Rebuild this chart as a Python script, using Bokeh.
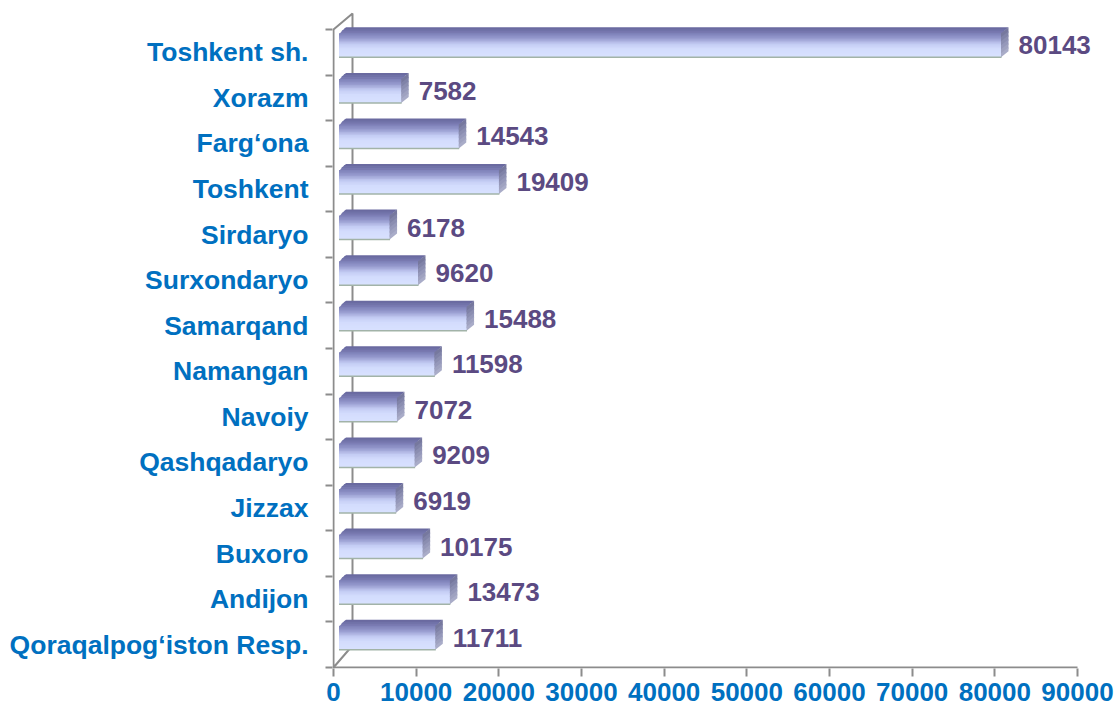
from bokeh.plotting import figure
from bokeh.models import FixedTicker, Range1d
from bokeh.core.properties import value
from bokeh.embed import file_html
from bokeh.resources import INLINE

# ---- data ----
regions = ["Qoraqalpog‘iston Resp.", "Andijon", "Buxoro", "Jizzax", "Qashqadaryo",
           "Navoiy", "Namangan", "Samarqand", "Surxondaryo", "Sirdaryo",
           "Toshkent", "Farg‘ona", "Xorazm", "Toshkent sh."]
values = [11711, 13473, 10175, 6919, 9209, 7072, 11598, 15488, 9620, 6178,
          19409, 14543, 7582, 80143]
x_ticks = [0, 10000, 20000, 30000, 40000, 50000, 60000, 70000, 80000, 90000]

# ---- geometry helpers (pixel -> data) ----
PX_X = 90000 / 744.0
PX_Y = 1 / 45.57
W, H = 1117, 711
FL = 332
FBB = 43
frame_w = W - FL
frame_h = H - FBB
x_start = -1 * PX_X
x_end = x_start + frame_w * PX_X
y_start = -0.5 - 1 * PX_Y
y_end = y_start + frame_h * PX_Y

FONT = "Liberation Sans"
GREY = "#8c8c8c"
BLUE = "#0070c0"
PURPLE = "#5b4a82"


def hex2rgb(h):
    h = h.lstrip("#")
    return tuple(int(h[i:i + 2], 16) for i in (0, 2, 4))


def interp(stops, t):
    for (t0, c0), (t1, c1) in zip(stops[:-1], stops[1:]):
        if t0 <= t <= t1:
            f = 0 if t1 == t0 else (t - t0) / (t1 - t0)
            a, b = hex2rgb(c0), hex2rgb(c1)
            return "#%02x%02x%02x" % tuple(int(round(a[k] + (b[k] - a[k]) * f)) for k in range(3))
    return stops[-1][1]


front_stops = [(0.0, "#7d80b8"), (0.2, "#9498cc"), (0.45, "#c3cbf3"),
               (0.65, "#d3dcfd"), (1.0, "#d9e2ff")]
top_stops = [(0.0, "#7b7db4"), (1.0, "#66669c")]
side_stops = [(0.0, "#717399"), (0.5, "#9093b6"), (1.0, "#aeb1cb")]

p = figure(width=W, height=H, x_range=Range1d(x_start, x_end),
           y_range=Range1d(y_start, y_end), output_backend="svg",
           toolbar_location=None, min_border_left=FL, min_border_right=0,
           min_border_top=0, min_border_bottom=FBB)
p.outline_line_color = None
p.grid.visible = False
p.background_fill_color = "white"
p.border_fill_color = "white"

# y axis
ya = p.yaxis[0]
ya.ticker = FixedTicker(ticks=list(range(len(regions))),
                        minor_ticks=[i - 0.5 for i in range(len(regions) + 1)])
ya.major_label_overrides = {i: r for i, r in enumerate(regions)}
ya.major_tick_out = 0
ya.major_tick_in = 0
ya.minor_tick_out = 7
ya.minor_tick_in = 0
ya.minor_tick_line_color = GREY
ya.minor_tick_line_width = 2
ya.axis_line_color = None
ya.major_label_standoff = 17
ya.major_label_text_font = FONT
ya.major_label_text_font_style = "bold"
ya.major_label_text_font_size = "26.5px"
ya.major_label_text_color = BLUE

# x axis
xa = p.xaxis[0]
xa.ticker = FixedTicker(ticks=x_ticks, minor_ticks=[])
xa.major_label_overrides = {t: str(t) for t in x_ticks}
xa.major_tick_out = 8
xa.major_tick_in = 0
xa.major_tick_line_color = GREY
xa.major_tick_line_width = 2
xa.minor_tick_line_color = None
xa.axis_line_color = None
xa.major_label_standoff = 6
xa.major_label_text_font = FONT
xa.major_label_text_font_style = "bold"
xa.major_label_text_font_size = "26px"
xa.major_label_text_color = BLUE

# walls / axis lines
n = len(regions)
top_b = n - 0.5
bx = 19 * PX_X
wall_xs = [[x_start, x_ticks[-1]],
           [0, 0, bx, bx, 0]]
wall_ys = [[-0.5, -0.5],
           [-0.5, top_b, top_b + 16 * PX_Y, -0.5 + 22 * PX_Y, -0.5]]
p.multi_line(xs=wall_xs, ys=wall_ys, line_color=GREY, line_width=2)

# bars
x0 = 5.5 * PX_X
dx = 7 * PX_X
dy = 6 * PX_Y
half = 12 * PX_Y
NS = 16
MS = 6
TS = 3
ov = 1.2 * PX_Y
fl, fr, ft, fb, fc = [], [], [], [], []
tx, ty, tc = [], [], []
sx, sy, sc = [], [], []
ex0, ex1, ey = [], [], []
lx, ly, lt = [], [], []
for i, v in enumerate(values):
    x1 = x0 + v
    yc = i + 7.0 * PX_Y
    yt = yc + half
    yb = yc - half
    hgt = yt - yb
    # top face strips (front -> back)
    for k in range(TS):
        a0 = k / TS
        a1 = min(1.0, (k + 1) / TS + 0.15)
        ya0 = yt + a0 * dy - (ov if k == 0 else 0)
        ya1 = yt + a1 * dy
        tx.append([x0 + a0 * dx, x0 + a1 * dx, x1 + a1 * dx, x1 + a0 * dx])
        ty.append([ya0, ya1, ya1, ya0])
        tc.append(interp(top_stops, (k + 0.5) / TS))
    for k in range(NS):
        t0 = k / NS
        t1 = (k + 1) / NS
        fl.append(x0)
        fr.append(x1)
        ft.append(yt - t0 * hgt)
        fb.append(max(yb, yt - t1 * hgt - ov))
        fc.append(interp(front_stops, (t0 + t1) / 2))
    # side face strips
    for k in range(MS):
        t0 = k / MS
        t1 = (k + 1) / MS
        ya0 = yt - t0 * hgt
        ya1 = max(yb, yt - t1 * hgt - ov)
        sx.append([x1 - 0.5 * PX_X, x1 + dx, x1 + dx, x1 - 0.5 * PX_X])
        sy.append([ya0, ya0 + dy, ya1 + dy, ya1])
        sc.append(interp(side_stops, (t0 + t1) / 2))
    ex0.append(x0)
    ex1.append(x1)
    ey.append(yb)
    lx.append(x1 + dx + 10 * PX_X)
    ly.append(yc)
    lt.append(str(v))

p.patches(xs=tx, ys=ty, fill_color=tc, line_color=None)
p.quad(left=fl, right=fr, top=ft, bottom=fb, fill_color=fc, line_color=None)
p.patches(xs=sx, ys=sy, fill_color=sc, line_color=None)
p.segment(x0=ex0, y0=ey, x1=ex1, y1=ey, line_color="#a2b3a8", line_width=1.5)
p.text(x=lx, y=ly, text=lt, text_font=value(FONT), text_font_style="bold",
       text_font_size="26px", text_color=PURPLE, text_baseline="middle",
       text_align="left")

open("out.html", "w").write(file_html(p, INLINE))
